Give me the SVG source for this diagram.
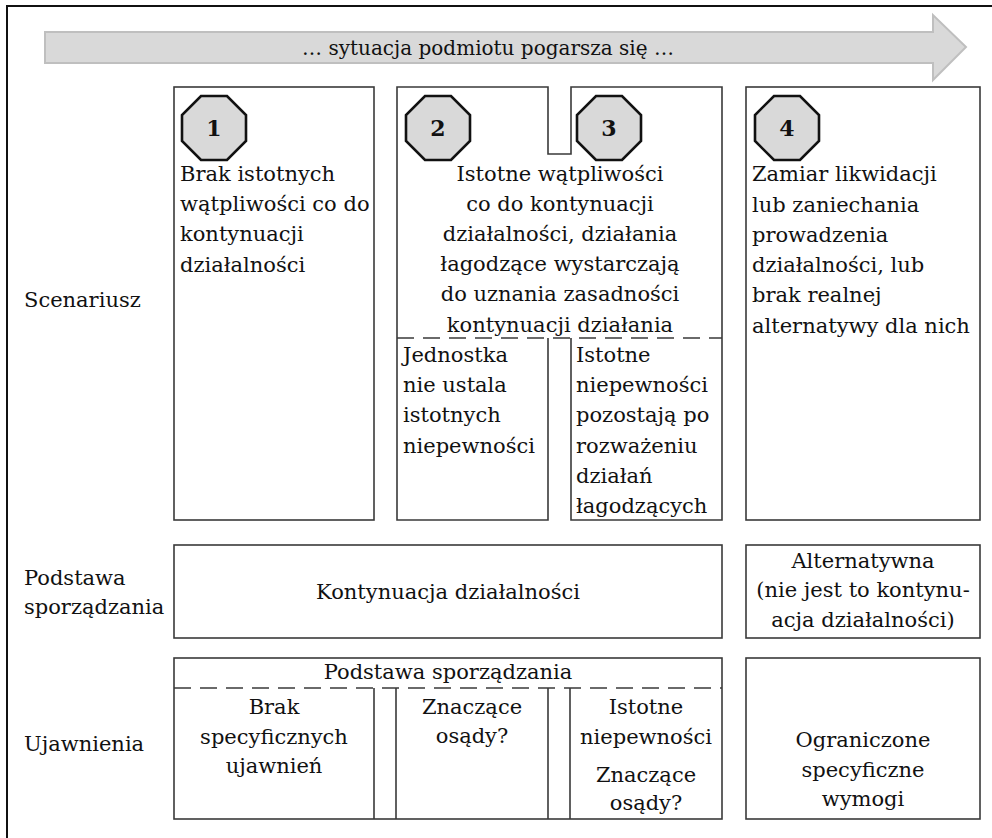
<svg xmlns="http://www.w3.org/2000/svg" width="992" height="838" viewBox="0 0 992 838">
<defs>
<style>
.t{font-family:"DejaVu Serif","Liberation Serif",serif;font-size:21px;fill:#111}
.c{text-anchor:middle}
.n{font-family:"DejaVu Serif","Liberation Serif",serif;font-size:22px;font-weight:bold;text-anchor:middle;fill:#111}
.box{fill:#fff;stroke:#3a3a3a;stroke-width:1.6}
.ln{fill:none;stroke:#3a3a3a;stroke-width:1.6}
.dash{fill:none;stroke:#3a3a3a;stroke-width:1.6;stroke-dasharray:17 9}
.oct{fill:#d9d9d9;stroke:#111;stroke-width:2.6}
</style>
<polygon id="octShape" points="-13,-32 13,-32 32,-13 32,13 13,32 -13,32 -32,13 -32,-13"/>
</defs>
<rect width="992" height="838" fill="#fff"/>
<rect x="7" y="6" width="1000" height="900" fill="none" stroke="#111" stroke-width="2"/>

<g id="arrow">
<polygon points="45,32 933,32 933,15 966,47 933,80 933,63 45,63" fill="#d9d9d9" stroke="#bfbfbf" stroke-width="2"/>
<text class="t c" x="488" y="55" style="font-size:20px">… sytuacja podmiotu pogarsza się …</text>
</g>

<g id="labels">
<text class="t" x="24" y="307">Scenariusz</text>
<text class="t" x="24" y="585">Podstawa</text>
<text class="t" x="24" y="614">sporządzania</text>
<text class="t" x="24" y="751">Ujawnienia</text>
</g>

<g id="scen1">
<rect class="box" x="174" y="87" width="200" height="433"/>
<use href="#octShape" class="oct" x="214" y="128"/>
<text class="n" x="214" y="136">1</text>
<text class="t" x="180" y="181">Brak istotnych</text>
<text class="t" x="180" y="211">wątpliwości co do</text>
<text class="t" x="180" y="241">kontynuacji</text>
<text class="t" x="180" y="272">działalności</text>
</g>

<g id="scen23">
<path class="ln" d="M548,338 V520 H397 V87 H548 V154 H571 V87 H722 V520 H571 V338"/>
<line class="dash" x1="397" y1="338" x2="722" y2="338"/>
<use href="#octShape" class="oct" x="438" y="128"/>
<text class="n" x="438" y="136">2</text>
<use href="#octShape" class="oct" x="609" y="128"/>
<text class="n" x="609" y="136">3</text>
<text class="t c" x="560" y="181">Istotne wątpliwości</text>
<text class="t c" x="560" y="211">co do kontynuacji</text>
<text class="t c" x="560" y="241">działalności, działania</text>
<text class="t c" x="560" y="271">łagodzące wystarczają</text>
<text class="t c" x="560" y="301">do uznania zasadności</text>
<text class="t c" x="560" y="332">kontynuacji działania</text>
<text class="t" x="403" y="362">Jednostka</text>
<text class="t" x="403" y="392">nie ustala</text>
<text class="t" x="403" y="422">istotnych</text>
<text class="t" x="403" y="453">niepewności</text>
<text class="t" x="576" y="362">Istotne</text>
<text class="t" x="576" y="392">niepewności</text>
<text class="t" x="576" y="422">pozostają po</text>
<text class="t" x="576" y="453">rozważeniu</text>
<text class="t" x="576" y="483">działań</text>
<text class="t" x="576" y="513">łagodzących</text>
</g>

<g id="scen4">
<rect class="box" x="746" y="87" width="234" height="433"/>
<use href="#octShape" class="oct" x="787" y="128"/>
<text class="n" x="787" y="136">4</text>
<text class="t" x="752" y="181">Zamiar likwidacji</text>
<text class="t" x="752" y="212">lub zaniechania</text>
<text class="t" x="752" y="242">prowadzenia</text>
<text class="t" x="752" y="272">działalności, lub</text>
<text class="t" x="752" y="302">brak realnej</text>
<text class="t" x="752" y="333">alternatywy dla nich</text>
</g>

<g id="basis-going">
<rect class="box" x="174" y="545" width="548" height="93"/>
<text class="t c" x="448" y="599">Kontynuacja działalności</text>
</g>

<g id="basis-alt">
<rect class="box" x="746" y="545" width="234" height="93"/>
<text class="t c" x="863" y="568">Alternatywna</text>
<text class="t c" x="863" y="597">(nie jest to kontynu-</text>
<text class="t c" x="863" y="627">acja działalności)</text>
</g>

<g id="disc-going">
<rect class="box" x="174" y="658" width="548" height="161"/>
<line class="dash" x1="174" y1="688" x2="722" y2="688"/>
<path class="ln" d="M374,688 V819 M396,688 V819 M548,688 V819 M570,688 V819"/>
<text class="t c" x="448" y="679">Podstawa sporządzania</text>
<text class="t c" x="274" y="714">Brak</text>
<text class="t c" x="274" y="744">specyficznych</text>
<text class="t c" x="274" y="773">ujawnień</text>
<text class="t c" x="472" y="714">Znaczące</text>
<text class="t c" x="472" y="743">osądy?</text>
<text class="t c" x="646" y="714">Istotne</text>
<text class="t c" x="646" y="744">niepewności</text>
<text class="t c" x="646" y="782">Znaczące</text>
<text class="t c" x="646" y="810">osądy?</text>
</g>

<g id="disc-alt">
<rect class="box" x="746" y="658" width="234" height="161"/>
<text class="t c" x="863" y="747">Ograniczone</text>
<text class="t c" x="863" y="777">specyficzne</text>
<text class="t c" x="863" y="806">wymogi</text>
</g>
</svg>
